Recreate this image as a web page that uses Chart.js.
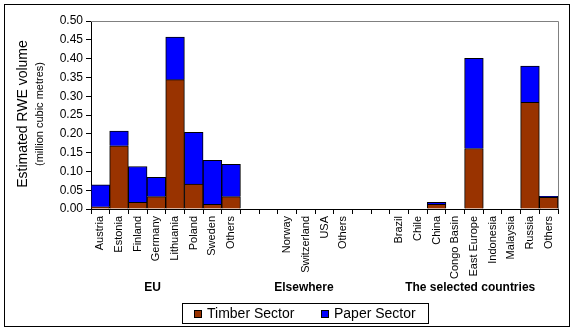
<!DOCTYPE html>
<html>
<head>
<meta charset="UTF-8">
<title>RWE volume</title>
<script src="https://cdn.jsdelivr.net/npm/chart.js"></script>
<style>
    body { margin: 0; background: #fff; }
</style>
</head>
<body>

<canvas id="grafico" width="577" height="332"></canvas>

<script>
    // categorias (vazias = espaço entre grupos)
    const categorias = ['Austria', 'Estonia', 'Finland', 'Germany', 'Lithuania', 'Poland', 'Sweden', 'Others',
        '', '',
        'Norway', 'Switzerland', 'USA', 'Others',
        '', '',
        'Brazil', 'Chile', 'China', 'Congo Basin', 'East Europe', 'Indonesia', 'Malaysia', 'Russia', 'Others'];

    const timber = [0.006, 0.168, 0.018, 0.033, 0.344, 0.066, 0.0125, 0.033,
        null, null,
        null, null, null, null,
        null, null,
        null, null, 0.0125, null, 0.161, null, null, 0.284, 0.031];

    const paper = [0.058, 0.039, 0.095, 0.051, 0.113, 0.138, 0.117, 0.086,
        null, null,
        null, null, null, null,
        null, null,
        null, null, 0.005, null, 0.240, null, null, 0.096, 0.003];

    const seriesNomes = ['Timber Sector', 'Paper Sector'];
    const cores = ['#993300', '#0000ff'];

    const ticksY = [0, 0.05, 0.10, 0.15, 0.20, 0.25, 0.30, 0.35, 0.40, 0.45, 0.50];
    const tituloY = ['Estimated RWE volume', '(million cubic metres)'];

    const grupos = ['EU', 'Elsewhere', 'The selected countries'];
    const grupoIndice = [2.8, 10.9, 19.8];

    const fonte = "'Liberation Sans', Arial, sans-serif";

    const extras = {
        id: 'extras',
        afterDraw(chart) {
            const ctx = chart.ctx;
            const a = chart.chartArea;
            const sx = chart.scales.x;
            ctx.save();

            // borda cinza em cima e à direita
            ctx.strokeStyle = '#808080';
            ctx.lineWidth = 1;
            ctx.beginPath();
            ctx.moveTo(a.left, a.top + 0.5);
            ctx.lineTo(a.right + 0.5, a.top + 0.5);
            ctx.lineTo(a.right + 0.5, a.bottom);
            ctx.stroke();

            // título do eixo y
            ctx.fillStyle = '#000';
            ctx.textAlign = 'center';
            ctx.textBaseline = 'middle';
            ctx.save();
            ctx.translate(23, 114);
            ctx.rotate(-Math.PI / 2);
            ctx.font = '14px ' + fonte;
            ctx.fillText(tituloY[0], 0, 0);
            ctx.restore();
            ctx.save();
            ctx.translate(40, 114);
            ctx.rotate(-Math.PI / 2);
            ctx.font = '11px ' + fonte;
            ctx.fillText(tituloY[1], 0, 0);
            ctx.restore();

            // nomes dos grupos
            ctx.font = 'bold 12px ' + fonte;
            grupos.forEach((g, i) => {
                ctx.fillText(g, sx.getPixelForValue(grupoIndice[i]), 288);
            });

            // legenda
            ctx.strokeStyle = '#000';
            ctx.strokeRect(182.5, 303.5, 246, 20);
            ctx.font = '14px ' + fonte;
            ctx.textAlign = 'left';
            const legX = [194, 321];
            seriesNomes.forEach((n, i) => {
                ctx.fillStyle = cores[i];
                ctx.fillRect(legX[i], 310, 8, 8);
                ctx.strokeRect(legX[i] + 0.5, 310.5, 7, 7);
                ctx.fillStyle = '#000';
                ctx.fillText(n, legX[i] + 13, 314);
            });

            // moldura externa
            ctx.strokeRect(4.5, 4.5, 565, 322);
            ctx.restore();
        }
    };

    const ctx = document.getElementById('grafico').getContext('2d');
    const grafico = new Chart(ctx, {
        type: 'bar',
        data: {
            labels: categorias,
            datasets: [timber, paper].map((d, i) => ({
                label: seriesNomes[i],
                data: d,
                backgroundColor: cores[i],
                borderColor: '#000',
                borderWidth: 1,
                barPercentage: 1,
                categoryPercentage: 1
            }))
        },
        options: {
            responsive: false,
            animation: false,
            devicePixelRatio: 1,
            layout: { padding: { left: 0, top: 21, right: 19, bottom: 0 } },
            plugins: {
                legend: { display: false },
                tooltip: { enabled: false }
            },
            scales: {
                x: {
                    stacked: true,
                    grid: { drawOnChartArea: false, color: '#000', tickLength: 5 },
                    border: { color: '#000' },
                    ticks: {
                        autoSkip: false,
                        maxRotation: 90,
                        minRotation: 90,
                        padding: 2,
                        color: '#000',
                        font: { family: fonte, size: 11 }
                    },
                    afterFit: s => { s.height = 123; }
                },
                y: {
                    stacked: true,
                    min: 0,
                    max: 0.5,
                    grid: { drawOnChartArea: false, color: '#000', tickLength: 5 },
                    border: { color: '#000' },
                    afterBuildTicks: s => { s.ticks = ticksY.map(v => ({ value: v })); },
                    ticks: {
                        padding: 3,
                        color: '#000',
                        font: { family: fonte, size: 12 },
                        callback: v => v.toFixed(2)
                    },
                    afterFit: s => { s.width = 91; }
                }
            }
        },
        plugins: [extras]
    });
</script>

</body>
</html>
